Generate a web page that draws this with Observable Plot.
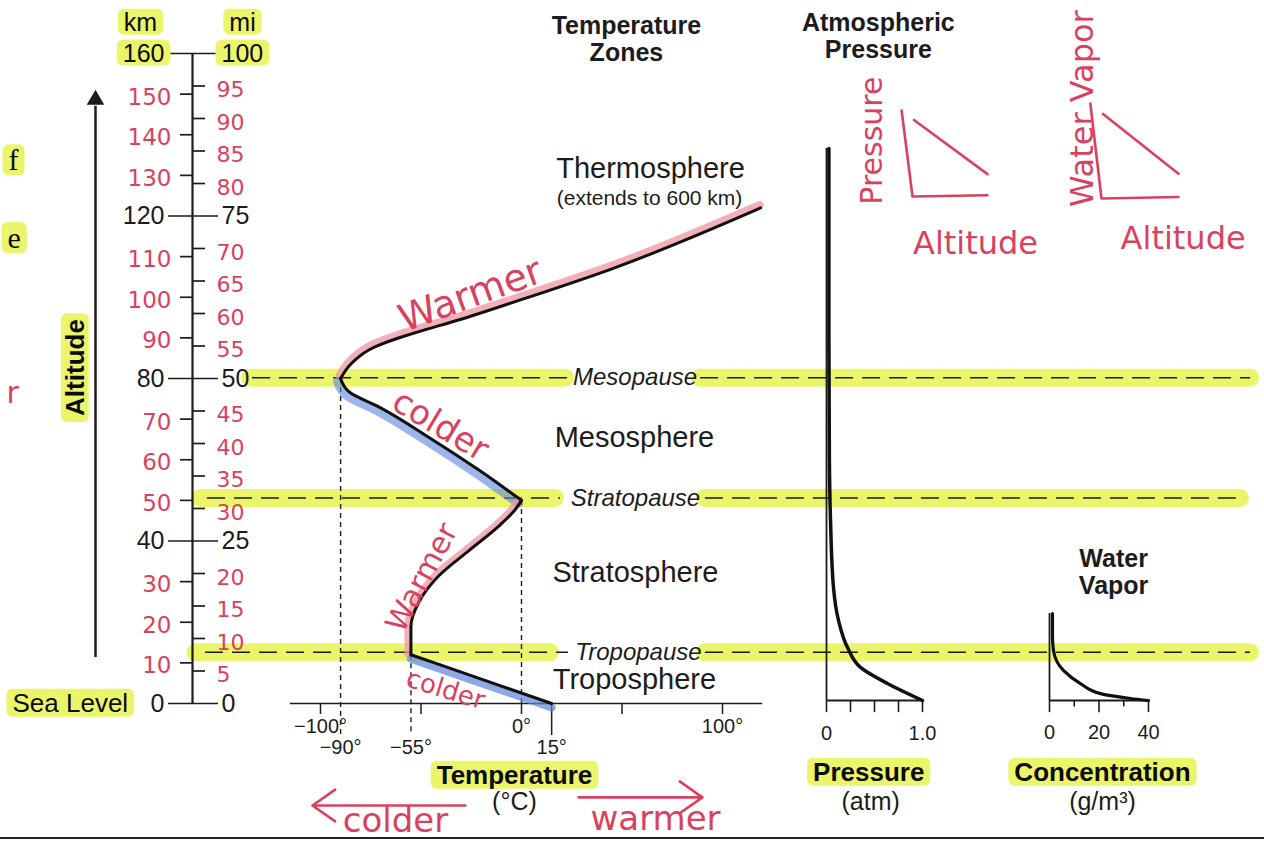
<!DOCTYPE html>
<html><head><meta charset="utf-8">
<script src="https://cdn.jsdelivr.net/npm/d3@7"></script>
<script src="https://cdn.jsdelivr.net/npm/@observablehq/plot@0.6"></script>
<style>
body{margin:0;background:#fff;}
#page{position:relative;width:1264px;height:846px;overflow:hidden;background:#fff;}
#page svg{position:absolute;left:0;top:0;}
#bottomline{position:absolute;left:0;top:837px;width:1264px;height:2px;background:#222;}
</style></head><body><div id="page"><div id="bottomline"></div></div>
<script>
// ---------------- data ----------------
const kmMajor = [0, 40, 80, 120, 160];
const miMajor = [0, 25, 50, 75, 100];
const kmMinor = [10, 20, 30, 50, 60, 70, 90, 100, 110, 130, 140, 150];
const miMinor = [5, 10, 15, 20, 30, 35, 40, 45, 55, 60, 65, 70, 80, 85, 90, 95];
const KM_PER_MI = 1.6;

const tempC  = [15, -20, -55, -55, -51, -41, -26, -11, -3.5, 0, -21, -46, -71, -85.5, -90, -85, -76, -21, 45, 119];
const tempKm = [0, 6, 12, 19, 25, 31.5, 37.7, 43.8, 47.5, 50, 57.4, 65.5, 73, 76.6, 80, 83.5, 87, 96, 107, 122];
const zoneTopsKm = [0, 12, 50, 80, 122];

const tempTicks = [-100, -50, 0, 50, 100];
const tempTopLabels = ["−100°", "0°", "100°"];
const tempTopAt = [-100, 0, 100];
const tempLowLabels = ["−90°", "−55°", "15°"];
const tempLowAt = [-90, -55, 15];
const dropTemp = [-90, -55, 0];
const dropKm = [80, 12, 50];

const pauseNames = ["Tropopause", "Stratopause", "Mesopause"];
const pauseKm = [12.6, 50.6, 80.2];
const zoneNames = ["Troposphere", "Stratosphere", "Mesosphere", "Thermosphere"];

const pressureAtm = [1.0, 0.635, 0.354, 0.219, 0.125, 0.073, 0.042, 0.03, 0.025, 0.025];
const pressureKm  = [0, 4.2, 8.2, 13.1, 19.8, 27.9, 44.5, 60, 90, 136.5];
const pressureTicks = [0, 0.25, 0.5, 0.75, 1];
const pressureLabels = ["0", "1.0"];

const vaporG  = [40, 32.7, 20.6, 12.5, 5.7, 1.6, 1.2, 1.2];
const vaporKm = [0, 0.5, 1.7, 4.2, 7.4, 12.4, 16.1, 21.5];
const vaporMajor = [0, 20, 40];
const vaporMinor = [10, 30];

const sketchAxis = [[-0.145, 1], [0, 0], [1, 0.015]];
const sketchTrend = [[0.02, 0.89], [1, 0.26]];

// ---------------- style ----------------
const SANS = "'Liberation Sans', Arial, Helvetica, sans-serif";
const SERIF = "'Liberation Serif', 'Times New Roman', serif";
const HAND = "'DejaVu Sans', sans-serif";
const INK = "#1c1c1c";
const HLTEXT = "#0b0b0c";
const HL = "#ebf56a";
const RED = "#d9425f";
const PINK = "#ee97a3";
const BLUE = "#5b84dc";

function mk(opts) {
  return Plot.plot(Object.assign({
    width: 1264, height: 846, marginTop: 53, marginBottom: 143,
    style: {background: "transparent", overflow: "visible", fontFamily: SANS}
  }, opts));
}

function addHighlights(svg) {
  svg.querySelectorAll('g[fill="' + HLTEXT + '"] text').forEach(t => {
    const b = t.getBBox();
    const r = document.createElementNS("http://www.w3.org/2000/svg", "rect");
    r.setAttribute("x", b.x - 6);
    r.setAttribute("y", b.y + 1);
    r.setAttribute("width", b.width + 12);
    r.setAttribute("height", Math.max(0, b.height - 2));
    r.setAttribute("rx", 6);
    r.setAttribute("fill", HL);
    r.setAttribute("stroke", "none");
    const tr = t.getAttribute("transform");
    if (tr) r.setAttribute("transform", tr);
    t.parentNode.insertBefore(r, t);
  });
}

const page = document.getElementById("page");
function add(svg) { page.appendChild(svg); addHighlights(svg); }

// ---------------- temperature panel ----------------
const prof = tempC.map((t, i) => ({t, km: tempKm[i]}));
const seg = (a, b) => prof.filter(d => d.km >= a && d.km <= b);
const segs = zoneTopsKm.slice(0, -1).map((a, i) => seg(a, zoneTopsKm[i + 1]));
const bandL = [[-162, 14.4], [-159.7, 16.9], [-134.8, 21.9]];
const bandR = [[91.5, 362.7], [91.5, 357.7], [89.1, 362.7]];
const dashL = [[-157.2, 23.4], [-156.2, 19.4], [-133.8, 23.4]];
const dashR = [[91.5, 362.7], [91.5, 360.2], [89.1, 362.7]];
const lineOpts = {x: "t", y: "km", curve: "monotone-y"};

const T = mk({
  marginLeft: 320, marginRight: 542,
  x: {domain: [-100, 100], axis: null},
  y: {domain: [0, 160], axis: null},
  marks: [
    // highlighter bands
    Plot.ruleY(pauseKm, {y: d => d, x1: (d, i) => bandL[i][0], x2: (d, i) => bandL[i][1], stroke: HL, strokeWidth: 18, strokeLinecap: "round"}),
    Plot.ruleY(pauseKm, {y: d => d, x1: (d, i) => bandR[i][0], x2: (d, i) => bandR[i][1], stroke: HL, strokeWidth: 18, strokeLinecap: "round"}),
    // dashed pause lines
    Plot.ruleY(pauseKm, {y: d => d, x1: (d, i) => dashL[i][0], x2: (d, i) => dashL[i][1], stroke: INK, strokeWidth: 1.6, strokeDasharray: "18 9"}),
    Plot.ruleY(pauseKm, {y: d => d, x1: (d, i) => dashR[i][0], x2: (d, i) => dashR[i][1], stroke: INK, strokeWidth: 1.6, strokeDasharray: "18 9"}),
    Plot.text(pauseNames, {text: d => d, x: (d, i) => [58.2, 56.7, 56.5][i], y: (d, i) => pauseKm[i], fontSize: 24, fontStyle: "italic", fill: INK}),
    // drop lines
    Plot.ruleX(dropTemp, {x: d => d, y1: (d, i) => dropKm[i], y2: (d, i) => i < 2 ? -7.9 : 0, stroke: INK, strokeWidth: 1.4, strokeDasharray: "5 4"}),
    // temperature axis
    Plot.ruleY([0], {x1: -115, x2: 120, stroke: INK, strokeWidth: 1.6}),
    Plot.ruleX(tempTicks, {x: d => d, y1: 0, y2: -2.7, stroke: INK, strokeWidth: 1.5}),
    Plot.ruleX([15], {x: d => d, y1: 0, y2: -7.9, stroke: INK, strokeWidth: 1.5}),
    Plot.text(tempTopLabels, {text: d => d, x: (d, i) => tempTopAt[i], y: -5.7, dx: 0, fontSize: 20, fill: INK}),
    Plot.text(tempLowLabels, {text: d => d, x: (d, i) => tempLowAt[i], y: -10.8, fontSize: 20, fill: INK}),
    Plot.text(["Temperature"], {text: d => d, x: -3.5, y: -17.7, fontSize: 26, fontWeight: "bold", fill: HLTEXT}),
    Plot.text(["(°C)"], {text: d => d, x: -3.5, y: -24.3, fontSize: 25, fill: INK}),
    // coloured marker strokes along profile
    Plot.line(segs[3], {...lineOpts, stroke: PINK, strokeWidth: 8, strokeOpacity: 0.75, dx: -1, dy: -3}),
    Plot.line(segs[2], {...lineOpts, stroke: BLUE, strokeWidth: 9, strokeOpacity: 0.6, dx: -3, dy: 3}),
    Plot.line(segs[1], {...lineOpts, stroke: PINK, strokeWidth: 7, strokeOpacity: 0.75, dx: -3, dy: -1}),
    Plot.line(segs[0], {...lineOpts, stroke: BLUE, strokeWidth: 8, strokeOpacity: 0.7, dy: 4}),
    // the profile, one smooth piece per layer so the pauses stay pointed
    ...segs.map(s => Plot.line(s, {...lineOpts, stroke: "#111", strokeWidth: 3, strokeLinejoin: "round", strokeLinecap: "round"})),
    // zone labels
    Plot.text(zoneNames, {text: d => d, x: (d, i) => [56.2, 56.7, 56.2, 64.2][i], y: (d, i) => [5.9, 32.2, 65.5, 131.7][i], fontSize: 29, fill: INK}),
    Plot.text(["(extends to 600 km)"], {text: d => d, x: 63.7, y: 124.3, fontSize: 21, fill: INK}),
    Plot.text(["Temperature\nZones"], {text: d => d, x: 52.2, y: 163.7, fontSize: 25, fontWeight: "bold", lineHeight: 1.08, fill: INK}),
    // handwriting along the profile
    Plot.text(["Warmer"], {text: d => d, x: -25.4, y: 100.5, rotate: -20, fontSize: 38, fontFamily: HAND, fill: RED}),
    Plot.text(["colder"], {text: d => d, x: -40.3, y: 68.4, rotate: 31, fontSize: 34, fontFamily: HAND, fill: RED}),
    Plot.text(["Warmer"], {text: d => d, x: -49.5, y: 31, rotate: -62, fontSize: 30, fontFamily: HAND, fill: RED}),
    Plot.text(["colder"], {text: d => d, x: -37.8, y: 3.4, rotate: 17, fontSize: 26, fontFamily: HAND, fill: RED}),
    // colder / warmer arrows under the axis
    Plot.arrow(["colder", "warmer"], {x1: (d, i) => [-27.9, 28.4][i], x2: (d, i) => [-104, 90][i], y1: (d, i) => [-25.1, -23.1][i], y2: (d, i) => [-25.1, -23.1][i], stroke: RED, strokeWidth: 2.6, headLength: 16, headAngle: 70}),
    Plot.text(["colder", "warmer"], {text: d => d, x: (d, i) => [-62.7, 66.7][i], y: (d, i) => [-28.9, -28.4][i], fontSize: 34, fontFamily: HAND, fill: RED})
  ]
});
add(T);

// ---------------- left altitude scale ----------------
const L = mk({
  marginLeft: 0, marginRight: 0,
  x: {type: "identity", axis: null},
  y: {domain: [0, 160], axis: null},
  marks: [
    Plot.ruleX([192], {x: d => d, y1: 0, y2: 160, stroke: INK, strokeWidth: 2.2}),
    Plot.ruleY(kmMajor, {y: d => d, x1: 168, x2: 218, stroke: INK, strokeWidth: 1.7}),
    Plot.ruleY(kmMinor, {y: d => d, x1: 180, x2: 192, stroke: INK, strokeWidth: 1.7}),
    Plot.ruleY(miMinor, {y: d => d * KM_PER_MI, x1: 192, x2: 205, stroke: INK, strokeWidth: 1.7}),
    Plot.text(kmMajor.filter(d => d > 0 && d < 160), {text: d => String(d), x: 164, y: d => d, textAnchor: "end", fontSize: 25, fill: INK}),
    Plot.text(miMajor.filter(d => d < 100), {text: d => String(d), x: 221, y: d => d * KM_PER_MI, textAnchor: "start", fontSize: 25, fill: INK}),
    Plot.text([0], {text: d => "0", x: 164, y: 0, textAnchor: "end", fontSize: 25, fill: INK}),
    Plot.text([160], {text: d => String(d), x: 164, y: d => d, textAnchor: "end", fontSize: 25, fill: HLTEXT}),
    Plot.text([100], {text: d => String(d), x: 221, y: d => d * KM_PER_MI, textAnchor: "start", fontSize: 25, fill: HLTEXT}),
    Plot.text(kmMinor, {text: d => String(d), x: 171, y: d => d, dy: 3, textAnchor: "end", fontSize: 23, fontFamily: HAND, fill: RED}),
    Plot.text(miMinor, {text: d => String(d), x: 216, y: d => d * KM_PER_MI, dy: 4, textAnchor: "start", fontSize: 22, fontFamily: HAND, fill: RED}),
    Plot.text(["km", "mi"], {text: d => d, x: (d, i) => [140, 242][i], y: 167.6, fontSize: 25, fill: HLTEXT}),
    Plot.text(["Sea Level"], {text: d => d, x: 12, y: 0, textAnchor: "start", fontSize: 26, fill: HLTEXT}),
    Plot.ruleX([95], {x: d => d, y1: 11.3, y2: 147, stroke: INK, strokeWidth: 2.5}),
    Plot.dot([148.6], {x: 95, y: d => d, symbol: "triangle", r: 6.5, fill: INK, stroke: "none"}),
    Plot.text(["Altitude"], {text: d => d, x: 75, y: 82.7, rotate: -90, fontSize: 26, fontWeight: "bold", fill: HLTEXT}),
    // fragments of the neighbouring page's text at the left edge
    Plot.text(["f"], {text: d => d, x: 8, y: 133.6, textAnchor: "start", fontSize: 30, fontFamily: SERIF, fill: HLTEXT}),
    Plot.text(["e"], {text: d => d, x: 7, y: 114.5, textAnchor: "start", fontSize: 30, fontFamily: SERIF, fill: HLTEXT}),
    Plot.text(["r"], {text: d => d, x: 6, y: 76.3, textAnchor: "start", fontSize: 30, fontFamily: HAND, fill: RED})
  ]
});
add(L);

// ---------------- pressure panel ----------------
const pres = pressureAtm.map((p, i) => ({p, km: pressureKm[i]}));
const P = mk({
  marginLeft: 826, marginRight: 342, marginBottom: 146,
  x: {domain: [0, 1], axis: null},
  y: {domain: [0, 160], axis: null},
  marks: [
    Plot.ruleX([0], {x: d => d, y1: 0, y2: 136.5, stroke: INK, strokeWidth: 1.8}),
    Plot.ruleY([0], {y: d => d, x1: 0, x2: 1, stroke: INK, strokeWidth: 1.8}),
    Plot.ruleX(pressureTicks, {x: d => d, y1: 0, y2: -3, stroke: INK, strokeWidth: 1.6}),
    Plot.line(pres, {x: "p", y: "km", curve: "monotone-y", stroke: "#111", strokeWidth: 3.5}),
    Plot.text(pressureLabels, {text: d => d, x: (d, i) => [0, 1][i], y: -8.2, fontSize: 20, fill: INK}),
    Plot.text(["Atmospheric\nPressure"], {text: d => d, x: 0.54, y: 164.4, fontSize: 25, fontWeight: "bold", lineHeight: 1.08, fill: INK}),
    Plot.text(["Pressure"], {text: d => d, x: 0.44, y: -17.8, fontSize: 26, fontWeight: "bold", fill: HLTEXT}),
    Plot.text(["(atm)"], {text: d => d, x: 0.46, y: -25.2, fontSize: 25, fill: INK})
  ]
});
add(P);

// ---------------- water vapour panel ----------------
const vap = vaporG.map((g, i) => ({g, km: vaporKm[i]}));
const Wp = mk({
  marginLeft: 1049, marginRight: 116, marginBottom: 146,
  x: {domain: [0, 40], axis: null},
  y: {domain: [0, 160], axis: null},
  marks: [
    Plot.ruleX([0], {x: d => d, y1: 0, y2: 21.5, stroke: INK, strokeWidth: 1.8}),
    Plot.ruleY([0], {y: d => d, x1: 0, x2: 40, stroke: INK, strokeWidth: 1.8}),
    Plot.ruleX(vaporMajor, {x: d => d, y1: 0, y2: -3, stroke: INK, strokeWidth: 1.6}),
    Plot.ruleX(vaporMinor, {x: d => d, y1: 0, y2: -1.6, stroke: INK, strokeWidth: 1.6}),
    Plot.line(vap, {x: "g", y: "km", curve: "monotone-y", stroke: "#111", strokeWidth: 3.2}),
    Plot.text(vaporMajor, {text: d => String(d), x: d => d, y: -8, fontSize: 20, fill: INK}),
    Plot.text(["Water\nVapor"], {text: d => d, x: 25.9, y: 31.9, fontSize: 25, fontWeight: "bold", lineHeight: 1.08, fill: INK}),
    Plot.text(["Concentration"], {text: d => d, x: 21.4, y: -17.8, fontSize: 26, fontWeight: "bold", fill: HLTEXT}),
    Plot.text(["(g/m³)"], {text: d => d, x: 21.4, y: -25.2, fontSize: 25, fill: INK})
  ]
});
add(Wp);

// ---------------- hand-drawn sketches ----------------
function sketch(xr, yr, yLabel, yLabelX, yLabelY, yLabelAnchor, yLabelSize, altX, altY) {
  return mk({
    marginTop: 0, marginBottom: 0, marginLeft: 0, marginRight: 0,
    x: {domain: [0, 1], range: xr, axis: null},
    y: {domain: [0, 1], range: yr, axis: null},
    marks: [
      Plot.line(sketchAxis, {x: d => d[0], y: d => d[1], stroke: RED, strokeWidth: 2.6, strokeLinejoin: "round"}),
      Plot.line(sketchTrend, {x: d => d[0], y: d => d[1], stroke: RED, strokeWidth: 2.6, strokeLinecap: "round"}),
      Plot.text([yLabel], {text: d => d, x: yLabelX, y: yLabelY, rotate: -90, textAnchor: yLabelAnchor, fontSize: yLabelSize, fontFamily: HAND, fill: RED}),
      Plot.text(["Altitude"], {text: d => d, x: altX, y: altY, fontSize: 32, fontFamily: HAND, fill: RED})
    ]
  });
}
add(sketch([912, 987], [196, 110], "Pressure", -0.53, 0.65, "middle", 30, 0.84, -0.55));
add(sketch([1101, 1178], [198, 103], "Water Vapor", -0.25, -0.09, "start", 32, 1.06, -0.42));
</script></body></html>
